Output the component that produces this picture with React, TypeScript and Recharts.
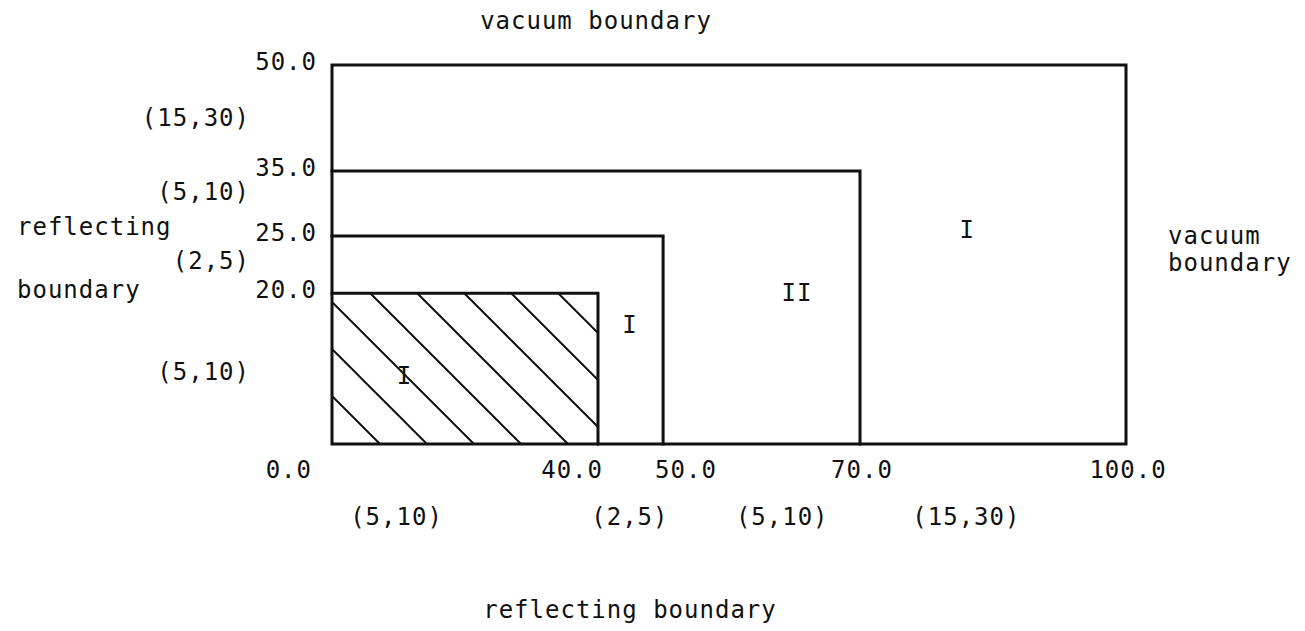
import { ComposedChart, Line, Scatter, XAxis, YAxis, ReferenceArea } from 'recharts'

// outer edges of the nested regions (0 is the reflecting corner)
const regionX = [40, 50, 70, 100]
const regionY = [20, 25, 35, 50]

// material labels inside the regions
const regionLabelX = [10.9, 44.9, 63.6, 82.1]
const regionLabelY = [9.1, 15.9, 20.1, 26.1]
const regionLabelText = ['I', 'I', 'II', 'I']

// mesh (intervals, points) written along each side
const xMeshAt = [9.7, 44.9, 62.1, 82]
const xMeshText = ['(5,10)', '(2,5)', '(5,10)', '(15,30)']
const yMeshAt = [42.5, 31.8, 22.8, 9.5]
const yMeshText = ['(15,30)', '(5,10)', '(2,5)', '(5,10)']

const xTicks = [0, ...regionX]
const yTicks = regionY

// the sketch is not drawn to scale: share of the axis length at each boundary
const xStops = [0, 0.335, 0.417, 0.665, 1]
const yStops = [0, 0.398, 0.549, 0.72, 1]

function stretchScale(knots: number[], stops: number[]): any {
  let dom = [knots[0], knots[knots.length - 1]]
  let rng = [0, 1]
  const s: any = (v: number) => {
    let i = 1
    while (i < knots.length - 1 && v > knots[i]) i++
    const t = (v - knots[i - 1]) / (knots[i] - knots[i - 1])
    const f = stops[i - 1] + t * (stops[i] - stops[i - 1])
    return rng[0] + f * (rng[1] - rng[0])
  }
  s.domain = (d?: number[]) => {
    if (!d) return dom
    dom = d
    return s
  }
  s.range = (r?: number[]) => {
    if (!r) return rng
    rng = r
    return s
  }
  s.ticks = () => knots
  s.copy = () => stretchScale(knots, stops).domain(dom).range(rng)
  return s
}

const xScale = stretchScale([0, ...regionX], xStops)
const yScale = stretchScale([0, ...regionY], yStops)

const last = regionX.length - 1
const outer = [
  { x: 0, y: 0 },
  { x: regionX[last], y: 0 },
  { x: regionX[last], y: regionY[last] },
  { x: 0, y: regionY[last] },
  { x: 0, y: 0 },
]
const inner = regionX.slice(0, last).map((rx, i) => [
  { x: 0, y: regionY[i] },
  { x: rx, y: regionY[i] },
  { x: rx, y: 0 },
])
const regionLabels = regionLabelX.map((x, i) => ({ x, y: regionLabelY[i], text: regionLabelText[i] }))
// mesh notes sit on the edges they describe, the text is pushed outside the box
const xMesh = xMeshAt.map((x, i) => ({ x, y: 0, text: xMeshText[i] }))
const yMesh = yMeshAt.map((y, i) => ({ x: 0, y, text: yMeshText[i] }))

const font = { fontFamily: 'DejaVu Sans Mono', fontSize: 24, letterSpacing: 1, fill: '#111' }

const xTickPlace: Record<number, [string, number]> = {
  0: ['end', -20],
  40: ['end', 5],
  50: ['start', -8],
}

function XTick({ x, y, payload }: any) {
  const [anchor, dx] = xTickPlace[payload.value] ?? ['middle', 2]
  return (
    <text x={x + dx} y={y + 34} textAnchor={anchor} {...font}>
      {payload.value.toFixed(1)}
    </text>
  )
}

function YTick({ x, y, payload }: any) {
  return (
    <text x={x} y={y + 5} textAnchor="end" {...font}>
      {payload.value.toFixed(1)}
    </text>
  )
}

export default function App() {
  return (
    <div style={{ position: 'absolute', left: 0, top: 0, background: '#fff' }}>
      <ComposedChart width={1305} height={631} margin={{ top: 65, right: 179, bottom: 137, left: 252 }}>
        <defs>
          <pattern id="hatch" patternUnits="userSpaceOnUse" x={30} y={0} width={47} height={47}>
            <path d="M-4,-4 L51,51 M43,-4 L51,4 M-4,43 L4,51" stroke="#111" strokeWidth={2} />
          </pattern>
        </defs>
        <XAxis
          xAxisId="main"
          dataKey="x"
          type="number"
          domain={[0, 100]}
          scale={xScale}
          ticks={xTicks}
          interval={0}
          axisLine={false}
          tickLine={false}
          tickSize={0}
          tickMargin={0}
          height={50}
          tick={XTick}
        />
        <YAxis
          yAxisId="main"
          dataKey="y"
          type="number"
          domain={[0, 50]}
          scale={yScale}
          ticks={yTicks}
          interval={0}
          axisLine={false}
          tickLine={false}
          tickSize={0}
          tickMargin={15}
          width={80}
          tick={YTick}
        />
        <ReferenceArea
          xAxisId="main"
          yAxisId="main"
          x1={0}
          x2={regionX[0]}
          y1={0}
          y2={regionY[0]}
          fill="url(#hatch)"
          fillOpacity={1}
          stroke="none"
        />
        <Line
          xAxisId="main"
          yAxisId="main"
          data={outer}
          dataKey="y"
          type="linear"
          stroke="#111"
          strokeWidth={3}
          strokeLinecap="square"
          dot={false}
          isAnimationActive={false}
        />
        {inner.map((pts, i) => (
          <Line
            key={i}
            xAxisId="main"
            yAxisId="main"
            data={pts}
            dataKey="y"
            type="linear"
            stroke="#111"
            strokeWidth={3}
            strokeLinecap="square"
            dot={false}
            isAnimationActive={false}
          />
        ))}
        <Scatter
          xAxisId="main"
          yAxisId="main"
          data={regionLabels}
          dataKey="y"
          isAnimationActive={false}
          shape={(p: any) => (
            <text x={p.cx} y={p.cy + 9} textAnchor="middle" {...font}>
              {p.payload.text}
            </text>
          )}
        />
        <Scatter
          xAxisId="main"
          yAxisId="main"
          data={xMesh}
          dataKey="y"
          isAnimationActive={false}
          shape={(p: any) => (
            <text x={p.cx} y={p.cy + 81} textAnchor="middle" {...font}>
              {p.payload.text}
            </text>
          )}
        />
        <Scatter
          xAxisId="main"
          yAxisId="main"
          data={yMesh}
          dataKey="y"
          isAnimationActive={false}
          shape={(p: any) => (
            <text x={p.cx - 82} y={p.cy + 8} textAnchor="end" {...font}>
              {p.payload.text}
            </text>
          )}
        />
        <text x={596} y={29} textAnchor="middle" {...font}>vacuum boundary</text>
        <text x={1168} y={244} {...font}>vacuum</text>
        <text x={1168} y={271} {...font}>boundary</text>
        <text x={17} y={235} {...font}>reflecting</text>
        <text x={17} y={298} {...font}>boundary</text>
        <text x={630} y={618} textAnchor="middle" {...font}>reflecting boundary</text>
      </ComposedChart>
    </div>
  )
}
